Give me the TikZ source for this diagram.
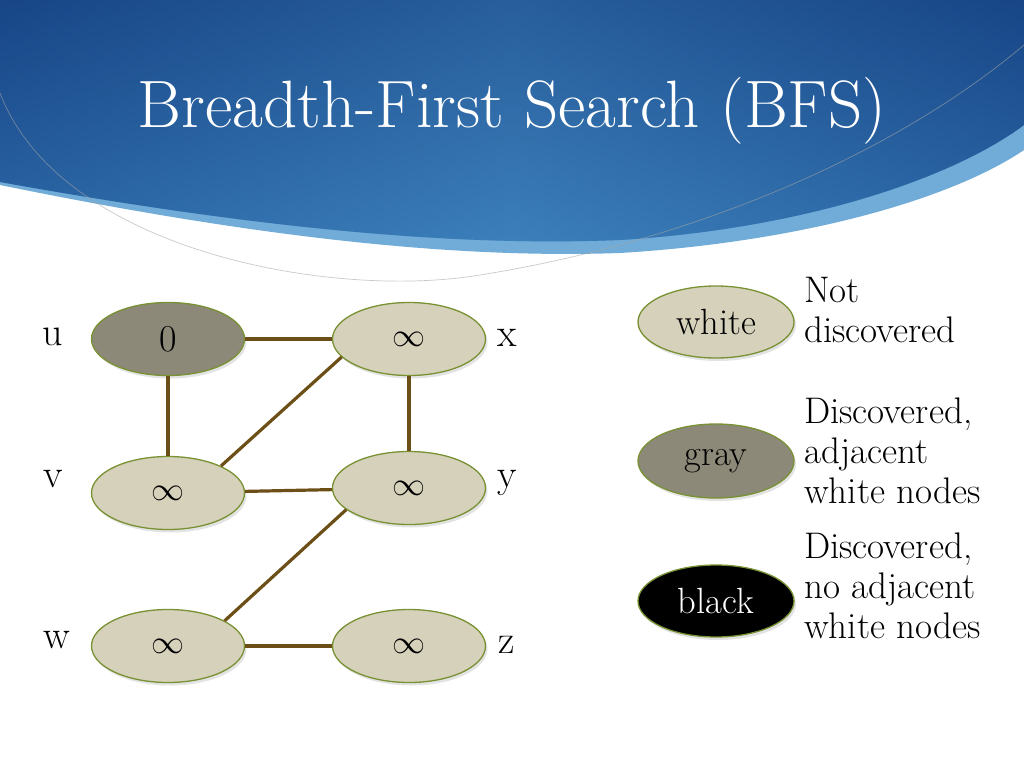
\documentclass[tikz,border=0pt]{standalone}
\usepackage{graphicx}
\usetikzlibrary{shapes.geometric,shadows}
\definecolor{edgebrown}{RGB}{107,79,22}
\definecolor{nodefill}{RGB}{214,209,187}
\definecolor{grayfill}{RGB}{140,137,120}
\definecolor{nodeborder}{RGB}{120,145,50}
\definecolor{bandark}{RGB}{24,70,135}
\definecolor{banmid}{RGB}{55,122,184}
\definecolor{banlight}{RGB}{112,172,215}
\definecolor{banglow}{RGB}{70,140,195}
\newcommand{\bigInf}{\scalebox{3.3}{\fontsize{10}{12}\selectfont$\infty$}}
\tikzset{
  gnode/.style={ellipse, draw=nodeborder, line width=1.3pt, fill=nodefill,
    minimum width=153pt, minimum height=73pt, inner sep=0pt,
    drop shadow={opacity=0.22, shadow xshift=2pt, shadow yshift=-3pt},
    font=\fontsize{38}{40}\selectfont},
  graynode/.style={gnode, fill=grayfill},
  blacknode/.style={gnode, fill=black, text=white},
  keynode/.style={font=\fontsize{36.5}{40}\selectfont},
  edge/.style={draw=edgebrown, line width=3.2pt},
  vlabel/.style={anchor=base, inner sep=0pt, font=\fontsize{40}{44}\selectfont},
  legtext/.style={anchor=base west, inner sep=0pt, align=left, font=\fontsize{37}{40}\selectfont}
}
\begin{document}
\begin{tikzpicture}[x=1pt,y=-1pt]
\useasboundingbox (0,0) rectangle (1024,768);
\fill[white] (0,0) rectangle (1024,768);
% banner
\fill[banlight] (0,0) -- (1024,0) -- (1024,150) .. controls (950,200) and (800,242) .. (620,253) .. controls (450,259) and (250,236) .. (0,185) -- cycle;
\shade[top color=bandark, bottom color=banmid] (0,0) -- (1024,0) -- (1024,125) .. controls (950,180) and (800,229) .. (620,240) .. controls (450,247) and (250,227) .. (0,182) -- cycle;
\shade[left color=bandark, right color=bandark, middle color=banglow, opacity=0.35] (0,0) -- (1024,0) -- (1024,125) .. controls (950,180) and (800,229) .. (620,240) .. controls (450,247) and (250,227) .. (0,182) -- cycle;
\draw[gray!70, opacity=0.6, line width=0.7pt] (0,93) .. controls (60,250) and (330,300) .. (480,275) .. controls (700,240) and (900,150) .. (1024,45);
\node[anchor=base, text=white, inner sep=0pt, font=\fontsize{67}{72}\selectfont] (title) at (512,127) {Breadth-First Search (BFS)};
% graph
\node[graynode] (u) at (168,339) {0};
\node[gnode] (x) at (409,339) {\bigInf};
\node[gnode] (v) at (168,493) {\bigInf};
\node[gnode] (y) at (409,488) {\bigInf};
\node[gnode] (w) at (168,646) {\bigInf};
\node[gnode] (z) at (409,646) {\bigInf};
\draw[edge] (u) -- (x);
\draw[edge] (u) -- (v);
\draw[edge] (v.27) -- (x.195);
\draw[edge] (x) -- (y);
\draw[edge] (v) -- (y);
\draw[edge] (y.199) -- (w.24);
\draw[edge] (w) -- (z);
\node[vlabel] (lu) at (53,345) {u};
\node[vlabel] (lx) at (507,346) {x};
\node[vlabel] (lv) at (53,487) {v};
\node[vlabel] (ly) at (507,487) {y};
\node[vlabel] (lw) at (57,648) {w};
\node[vlabel] (lz) at (507,653) {z};
% legend
\node[gnode, keynode, minimum width=156pt, minimum height=72pt] (kw) at (716,322) {white};
\node[graynode, keynode, minimum width=156pt, minimum height=74pt] (kg) at (716,461) {gray};
\node[blacknode, keynode, minimum width=156pt, minimum height=72pt] (kb) at (716,601) {black};
\node[legtext] (tw) at (804,342) {Not\\discovered};
\node[legtext] (tg) at (804,503) {Discovered,\\adjacent\\white nodes};
\node[legtext] (tb) at (804,638) {Discovered,\\no adjacent\\white nodes};
\end{tikzpicture}
\end{document}
